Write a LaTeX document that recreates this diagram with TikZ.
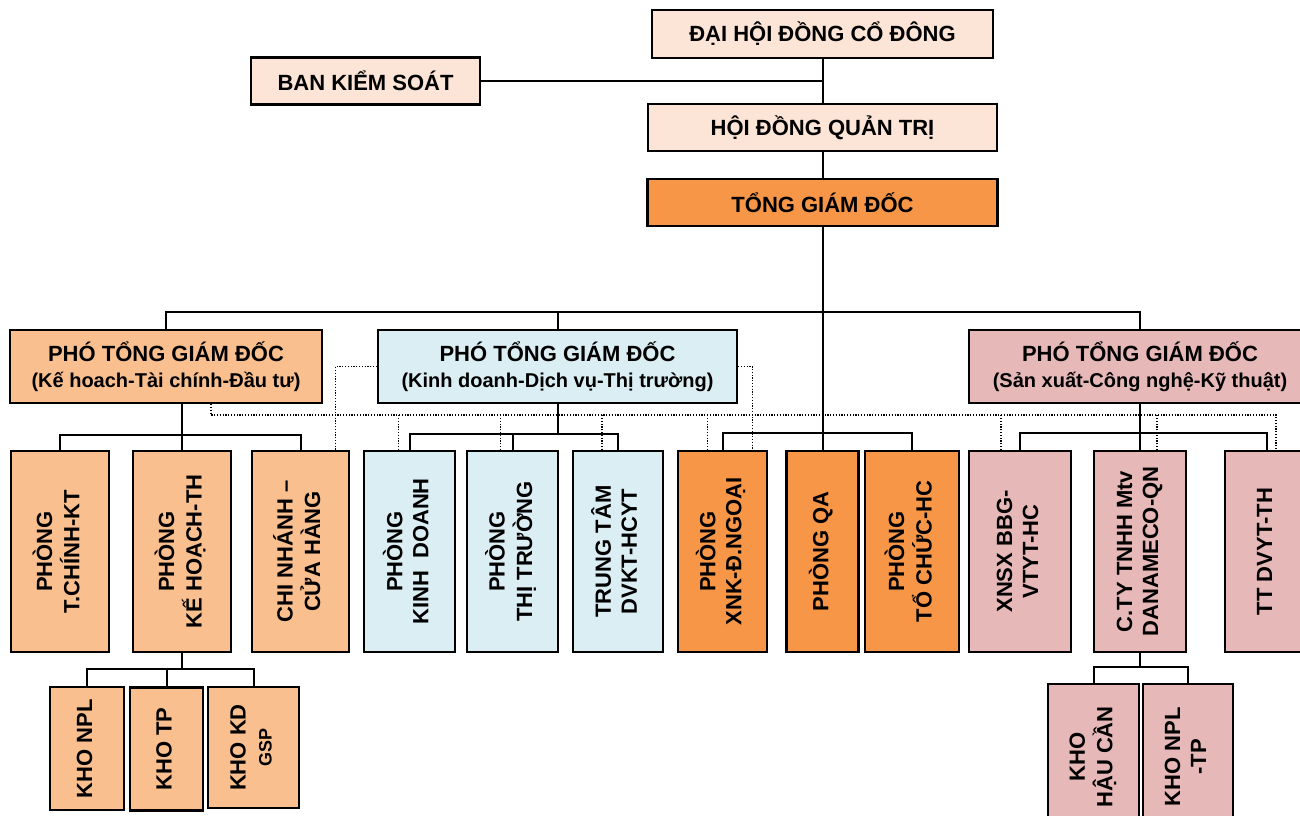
\documentclass[tikz,border=0pt]{standalone}
\usepackage{fontspec}
\setmainfont{Liberation Sans}
\usepackage{graphicx}
\usetikzlibrary{calc}

\definecolor{kem}{RGB}{252,229,214}
\definecolor{camdam}{RGB}{247,150,70}
\definecolor{camnhat}{RGB}{250,191,143}
\definecolor{xanhnhat}{RGB}{219,238,243}
\definecolor{hong}{RGB}{230,184,183}

% chữ dọc trong các ô phòng ban
\newcommand{\vt}[1]{\rotatebox{90}{\begin{tabular}{@{}c@{}}#1\end{tabular}}}

\begin{document}
\begin{tikzpicture}[
        x=1pt, y=-1pt,
        box/.style={draw, line width=2.2pt, inner sep=0pt, align=center,
            font=\bfseries\fontsize{22}{26}\selectfont},
        conn/.style={line width=2pt},
        dotline/.style={line width=1.2pt, dash pattern=on 1.2pt off 1.6pt}
    ]
        \useasboundingbox (0,0) rectangle (1300,815);

        % Cấp lãnh đạo
        \node[box, fill=kem, minimum width=341pt, minimum height=48pt] (dhdcd) at (822.5,34) {ĐẠI HỘI ĐỒNG CỔ ĐÔNG};
        \node[box, fill=kem, minimum width=229pt, minimum height=47pt] (bks) at (365.5,81) {BAN KIỂM SOÁT};
        \node[box, fill=kem, minimum width=349pt, minimum height=47pt] (hdqt) at (822.5,127.5) {HỘI ĐỒNG QUẢN TRỊ};
        \node[box, fill=camdam, minimum width=350pt, minimum height=47pt] (tgd) at (822.5,202.5) {TỔNG GIÁM ĐỐC};

        % Các phó tổng giám đốc
        \node[box, fill=camnhat, minimum width=312pt, minimum height=73pt] (pgd1) at (166,366.5)
            {PHÓ TỔNG GIÁM ĐỐC\\\fontsize{20}{24}\selectfont(Kế hoach-Tài chính-Đầu tư)};
        \node[box, fill=xanhnhat, minimum width=359pt, minimum height=73pt] (pgd2) at (557.5,366.5)
            {PHÓ TỔNG GIÁM ĐỐC\\\fontsize{20}{24}\selectfont(Kinh doanh-Dịch vụ-Thị trường)};
        \node[box, fill=hong, minimum width=342pt, minimum height=73pt] (pgd3) at (1140,366.5)
            {PHÓ TỔNG GIÁM ĐỐC\\\fontsize{20}{24}\selectfont(Sản xuất-Công nghệ-Kỹ thuật)};

        % Các phòng ban
        \node[box, fill=camnhat, minimum width=98pt, minimum height=201pt] (tck) at (60,551.5) {\vt{PHÒNG\\T.CHÍNH-KT}};
        \node[box, fill=camnhat, minimum width=98pt, minimum height=201pt] (khth) at (182,551.5) {\vt{PHÒNG\\KẾ HOẠCH-TH}};
        \node[box, fill=camnhat, minimum width=97pt, minimum height=201pt] (cnch) at (300.5,551.5) {\vt{CHI NHÁNH –\\CỬA HÀNG}};
        \node[box, fill=xanhnhat, minimum width=91pt, minimum height=201pt] (kd) at (409.5,551.5) {\vt{PHÒNG\\KINH\ \ DOANH}};
        \node[box, fill=xanhnhat, minimum width=91pt, minimum height=201pt] (ttr) at (512.5,551.5) {\vt{PHÒNG\\THỊ TRƯỜNG}};
        \node[box, fill=xanhnhat, minimum width=90pt, minimum height=201pt] (ttdv) at (618,551.5) {\vt{TRUNG TÂM\\DVKT-HCYT}};
        \node[box, fill=camdam, minimum width=89pt, minimum height=201pt] (xnk) at (722.5,551.5) {\vt{PHÒNG\\XNK-Đ.NGOẠI}};
        \node[box, fill=camdam, minimum width=72pt, minimum height=201pt] (qa) at (822.5,551.5) {\vt{PHÒNG QA}};
        \node[box, fill=camdam, minimum width=94pt, minimum height=201pt] (tchc) at (912,551.5) {\vt{PHÒNG\\TỔ CHỨC-HC}};
        \node[box, fill=hong, minimum width=102pt, minimum height=201pt] (xnsx) at (1020,551.5) {\vt{XNSX BBG-\\VTYT-HC}};
        \node[box, fill=hong, minimum width=92pt, minimum height=201pt] (cty) at (1140,551.5) {\vt{C.TY TNHH Mtv\\DANAMECO-QN}};
        \node[box, fill=hong, minimum width=84pt, minimum height=201pt] (ttdvyt) at (1267,551.5) {\vt{TT DVYT-TH}};

        % Các kho
        \node[box, fill=camnhat, minimum width=74pt, minimum height=123pt] (khonpl) at (87,748.5) {\vt{KHO NPL}};
        \node[box, fill=camnhat, minimum width=73pt, minimum height=123pt] (khotp) at (166.5,749) {\vt{KHO TP}};
        \node[box, fill=camnhat, minimum width=91pt, minimum height=121pt] (khokd) at (253.5,747.5) {\vt{KHO KD\\{\fontsize{18}{22}\selectfont GSP}}};
        \node[box, fill=hong, minimum width=91pt, minimum height=146pt] (khohc) at (1093.5,757) {\vt{KHO\\HẬU CẦN}};
        \node[box, fill=hong, minimum width=90pt, minimum height=146pt] (khonpltp) at (1188,757) {\vt{KHO NPL\\-TP}};

        % Đường nối trực tiếp
        \draw[conn] (dhdcd) -- (hdqt);
        \draw[conn] (bks) -- (bks -| dhdcd.south);
        \draw[conn] (hdqt) -- (tgd);
        \draw[conn] (tgd) -- (qa);
        \coordinate (bus0) at (822.5,312);
        \draw[conn] (pgd1) |- (bus0) -| (pgd3);
        \draw[conn] (pgd2) -- (pgd2 |- bus0);

        \coordinate (b1) at (182,435);
        \draw[conn] (khth) -- (khth |- pgd1.south);
        \draw[conn] (tck) |- (b1) -| (cnch);
        \coordinate (b1s) at (182,669);
        \draw[conn] (khth) -- (b1s);
        \draw[conn] (khonpl) |- (b1s) -| (khokd);
        \draw[conn] (khotp) -- (khotp |- b1s);

        \coordinate (b2) at (557.5,434);
        \draw[conn] (pgd2) -- (b2);
        \draw[conn] (kd) |- (b2) -| (ttdv);
        \draw[conn] (ttr) -- (ttr |- b2);

        \coordinate (b3) at (822.5,433);
        \draw[conn] (xnk) |- (b3) -| (tchc);

        \coordinate (b4) at (1140,433);
        \draw[conn] (pgd3) -- (cty);
        \draw[conn] (xnsx) |- (b4) -| (ttdvyt);
        \coordinate (b4s) at (1140,667);
        \draw[conn] (cty) -- (b4s);
        \draw[conn] (khohc) |- (b4s) -| (khonpltp);

        % Đường nối chấm chấm
        \coordinate (d0) at (211,415);
        \coordinate (d1) at (1276,415);
        \draw[dotline] (d0 |- pgd1.south) -- (d0) -- (d1) -- (d1 |- ttdvyt.north);
        \draw[dotline] ([xshift=-11pt]kd.north) -- ([xshift=-11pt]kd.north |- d0);
        \draw[dotline] ([xshift=-12pt]ttr.north) -- ([xshift=-12pt]ttr.north |- d0);
        \draw[dotline] ([xshift=-16pt]ttdv.north) -- ([xshift=-16pt]ttdv.north |- d0);
        \draw[dotline] ([xshift=-15pt]xnk.north) -- ([xshift=-15pt]xnk.north |- d0);
        \draw[dotline] ([xshift=-19pt]xnsx.north) -- ([xshift=-19pt]xnsx.north |- d0);
        \draw[dotline] ([xshift=17pt]cty.north) -- ([xshift=17pt]cty.north |- d0);
        \draw[dotline] (pgd2.west) -| ([xshift=35pt]cnch.north);
        \draw[dotline] (pgd2.east) -| ([xshift=30pt]xnk.north);
    \end{tikzpicture}
\end{document}
